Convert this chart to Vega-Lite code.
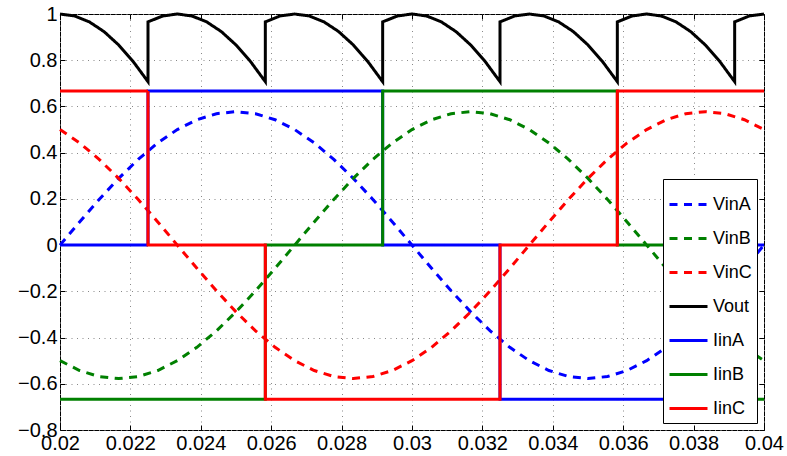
{
  "$schema": "https://vega.github.io/schema/vega-lite/v6.json",
  "width": 704,
  "height": 416,
  "autosize": {"type": "none"},
  "padding": {"left": 60, "top": 14, "right": 23, "bottom": 26},
  "background": "#ffffff",
  "datasets": {
    "vin": [
      {"t": 0.02, "VinA": 0, "VinB": -0.5, "VinC": 0.5},
      {"t": 0.020556, "VinA": 0.1003, "VinB": -0.5425, "VinC": 0.4423},
      {"t": 0.021111, "VinA": 0.1975, "VinB": -0.5686, "VinC": 0.3711},
      {"t": 0.021667, "VinA": 0.2887, "VinB": -0.5774, "VinC": 0.2887},
      {"t": 0.022222, "VinA": 0.3711, "VinB": -0.5686, "VinC": 0.1975},
      {"t": 0.022778, "VinA": 0.4423, "VinB": -0.5425, "VinC": 0.1003},
      {"t": 0.023333, "VinA": 0.5, "VinB": -0.5, "VinC": 0},
      {"t": 0.023889, "VinA": 0.5425, "VinB": -0.4423, "VinC": -0.1003},
      {"t": 0.024444, "VinA": 0.5686, "VinB": -0.3711, "VinC": -0.1975},
      {"t": 0.025, "VinA": 0.5774, "VinB": -0.2887, "VinC": -0.2887},
      {"t": 0.025556, "VinA": 0.5686, "VinB": -0.1975, "VinC": -0.3711},
      {"t": 0.026111, "VinA": 0.5425, "VinB": -0.1003, "VinC": -0.4423},
      {"t": 0.026667, "VinA": 0.5, "VinB": 0, "VinC": -0.5},
      {"t": 0.027222, "VinA": 0.4423, "VinB": 0.1003, "VinC": -0.5425},
      {"t": 0.027778, "VinA": 0.3711, "VinB": 0.1975, "VinC": -0.5686},
      {"t": 0.028333, "VinA": 0.2887, "VinB": 0.2887, "VinC": -0.5774},
      {"t": 0.028889, "VinA": 0.1975, "VinB": 0.3711, "VinC": -0.5686},
      {"t": 0.029444, "VinA": 0.1003, "VinB": 0.4423, "VinC": -0.5425},
      {"t": 0.03, "VinA": 0, "VinB": 0.5, "VinC": -0.5},
      {"t": 0.030556, "VinA": -0.1003, "VinB": 0.5425, "VinC": -0.4423},
      {"t": 0.031111, "VinA": -0.1975, "VinB": 0.5686, "VinC": -0.3711},
      {"t": 0.031667, "VinA": -0.2887, "VinB": 0.5774, "VinC": -0.2887},
      {"t": 0.032222, "VinA": -0.3711, "VinB": 0.5686, "VinC": -0.1975},
      {"t": 0.032778, "VinA": -0.4423, "VinB": 0.5425, "VinC": -0.1003},
      {"t": 0.033333, "VinA": -0.5, "VinB": 0.5, "VinC": 0},
      {"t": 0.033889, "VinA": -0.5425, "VinB": 0.4423, "VinC": 0.1003},
      {"t": 0.034444, "VinA": -0.5686, "VinB": 0.3711, "VinC": 0.1975},
      {"t": 0.035, "VinA": -0.5774, "VinB": 0.2887, "VinC": 0.2887},
      {"t": 0.035556, "VinA": -0.5686, "VinB": 0.1975, "VinC": 0.3711},
      {"t": 0.036111, "VinA": -0.5425, "VinB": 0.1003, "VinC": 0.4423},
      {"t": 0.036667, "VinA": -0.5, "VinB": 0, "VinC": 0.5},
      {"t": 0.037222, "VinA": -0.4423, "VinB": -0.1003, "VinC": 0.5425},
      {"t": 0.037778, "VinA": -0.3711, "VinB": -0.1975, "VinC": 0.5686},
      {"t": 0.038333, "VinA": -0.2887, "VinB": -0.2887, "VinC": 0.5774},
      {"t": 0.038889, "VinA": -0.1975, "VinB": -0.3711, "VinC": 0.5686},
      {"t": 0.039444, "VinA": -0.1003, "VinB": -0.4423, "VinC": 0.5425},
      {"t": 0.04, "VinA": 0, "VinB": -0.5, "VinC": 0.5}
    ],
    "vout": [
      {"series": "Vout", "i": 1, "t": 0.02, "value": 1},
      {"series": "Vout", "i": 2, "t": 0.0204167, "value": 0.9914},
      {"series": "Vout", "i": 3, "t": 0.0208333, "value": 0.9659},
      {"series": "Vout", "i": 4, "t": 0.02125, "value": 0.9239},
      {"series": "Vout", "i": 5, "t": 0.0216667, "value": 0.866},
      {"series": "Vout", "i": 6, "t": 0.0220833, "value": 0.7934},
      {"series": "Vout", "i": 7, "t": 0.0225, "value": 0.7071},
      {"series": "Vout", "i": 8, "t": 0.0225, "value": 0.9659},
      {"series": "Vout", "i": 9, "t": 0.0229167, "value": 0.9914},
      {"series": "Vout", "i": 10, "t": 0.0233333, "value": 1},
      {"series": "Vout", "i": 11, "t": 0.02375, "value": 0.9914},
      {"series": "Vout", "i": 12, "t": 0.0241667, "value": 0.9659},
      {"series": "Vout", "i": 13, "t": 0.0245833, "value": 0.9239},
      {"series": "Vout", "i": 14, "t": 0.025, "value": 0.866},
      {"series": "Vout", "i": 15, "t": 0.0254167, "value": 0.7934},
      {"series": "Vout", "i": 16, "t": 0.0258333, "value": 0.7071},
      {"series": "Vout", "i": 17, "t": 0.0258333, "value": 0.9659},
      {"series": "Vout", "i": 18, "t": 0.02625, "value": 0.9914},
      {"series": "Vout", "i": 19, "t": 0.0266667, "value": 1},
      {"series": "Vout", "i": 20, "t": 0.0270833, "value": 0.9914},
      {"series": "Vout", "i": 21, "t": 0.0275, "value": 0.9659},
      {"series": "Vout", "i": 22, "t": 0.0279167, "value": 0.9239},
      {"series": "Vout", "i": 23, "t": 0.0283333, "value": 0.866},
      {"series": "Vout", "i": 24, "t": 0.02875, "value": 0.7934},
      {"series": "Vout", "i": 25, "t": 0.0291667, "value": 0.7071},
      {"series": "Vout", "i": 26, "t": 0.0291667, "value": 0.9659},
      {"series": "Vout", "i": 27, "t": 0.0295833, "value": 0.9914},
      {"series": "Vout", "i": 28, "t": 0.03, "value": 1},
      {"series": "Vout", "i": 29, "t": 0.0304167, "value": 0.9914},
      {"series": "Vout", "i": 30, "t": 0.0308333, "value": 0.9659},
      {"series": "Vout", "i": 31, "t": 0.03125, "value": 0.9239},
      {"series": "Vout", "i": 32, "t": 0.0316667, "value": 0.866},
      {"series": "Vout", "i": 33, "t": 0.0320833, "value": 0.7934},
      {"series": "Vout", "i": 34, "t": 0.0325, "value": 0.7071},
      {"series": "Vout", "i": 35, "t": 0.0325, "value": 0.9659},
      {"series": "Vout", "i": 36, "t": 0.0329167, "value": 0.9914},
      {"series": "Vout", "i": 37, "t": 0.0333333, "value": 1},
      {"series": "Vout", "i": 38, "t": 0.03375, "value": 0.9914},
      {"series": "Vout", "i": 39, "t": 0.0341667, "value": 0.9659},
      {"series": "Vout", "i": 40, "t": 0.0345833, "value": 0.9239},
      {"series": "Vout", "i": 41, "t": 0.035, "value": 0.866},
      {"series": "Vout", "i": 42, "t": 0.0354167, "value": 0.7934},
      {"series": "Vout", "i": 43, "t": 0.0358333, "value": 0.7071},
      {"series": "Vout", "i": 44, "t": 0.0358333, "value": 0.9659},
      {"series": "Vout", "i": 45, "t": 0.03625, "value": 0.9914},
      {"series": "Vout", "i": 46, "t": 0.0366667, "value": 1},
      {"series": "Vout", "i": 47, "t": 0.0370833, "value": 0.9914},
      {"series": "Vout", "i": 48, "t": 0.0375, "value": 0.9659},
      {"series": "Vout", "i": 49, "t": 0.0379167, "value": 0.9239},
      {"series": "Vout", "i": 50, "t": 0.0383333, "value": 0.866},
      {"series": "Vout", "i": 51, "t": 0.03875, "value": 0.7934},
      {"series": "Vout", "i": 52, "t": 0.0391667, "value": 0.7071},
      {"series": "Vout", "i": 53, "t": 0.0391667, "value": 0.9659},
      {"series": "Vout", "i": 54, "t": 0.0395833, "value": 0.9914},
      {"series": "Vout", "i": 55, "t": 0.04, "value": 1}
    ],
    "iin": [
      {"series": "IinA", "t": 0.02, "value": 0},
      {"series": "IinA", "t": 0.0225, "value": 0.6667},
      {"series": "IinA", "t": 0.0291667, "value": 0},
      {"series": "IinA", "t": 0.0325, "value": -0.6667},
      {"series": "IinA", "t": 0.0391667, "value": 0},
      {"series": "IinA", "t": 0.04, "value": 0},
      {"series": "IinB", "t": 0.02, "value": -0.6667},
      {"series": "IinB", "t": 0.0258333, "value": 0},
      {"series": "IinB", "t": 0.0291667, "value": 0.6667},
      {"series": "IinB", "t": 0.0358333, "value": 0},
      {"series": "IinB", "t": 0.0391667, "value": -0.6667},
      {"series": "IinB", "t": 0.04, "value": -0.6667},
      {"series": "IinC", "t": 0.02, "value": 0.6667},
      {"series": "IinC", "t": 0.0225, "value": 0},
      {"series": "IinC", "t": 0.0258333, "value": -0.6667},
      {"series": "IinC", "t": 0.0325, "value": 0},
      {"series": "IinC", "t": 0.0358333, "value": 0.6667},
      {"series": "IinC", "t": 0.04, "value": 0.6667}
    ]
  },
  "layer": [
    {
      "data": {"name": "vin"},
      "transform": [{"fold": ["VinA", "VinB", "VinC"], "as": ["series", "value"]}],
      "mark": {"type": "line", "strokeWidth": 3, "clip": false},
      "encoding": {
        "x": {"field": "t", "type": "quantitative", "scale": {"domain": [0.02, 0.04], "nice": false, "zero": false},
              "axis": {"orient": "bottom", "title": null, "values": [0.02, 0.022, 0.024, 0.026, 0.028, 0.03, 0.032, 0.034, 0.036, 0.038, 0.04], "format": ".3~f", "grid": true, "labelFlush": false, "labelOverlap": false, "labelPadding": 8}},
        "y": {"field": "value", "type": "quantitative", "scale": {"domain": [-0.8, 1], "nice": false, "zero": false},
              "axis": {"orient": "left", "title": null, "values": [-0.8, -0.6, -0.4, -0.2, 0, 0.2, 0.4, 0.6, 0.8, 1], "format": ".1~f", "grid": true, "labelFlush": false, "labelOverlap": false, "labelPadding": 8}},
        "color": {"field": "series", "type": "nominal",
                  "scale": {"domain": ["VinA", "VinB", "VinC", "Vout", "IinA", "IinB", "IinC"], "range": ["#0000ff", "#008000", "#ff0000", "#000000", "#0000ff", "#008000", "#ff0000"]},
                  "legend": {"title": null}},
        "strokeDash": {"field": "series", "type": "nominal",
                  "scale": {"domain": ["VinA", "VinB", "VinC", "Vout", "IinA", "IinB", "IinC"], "range": [[8, 6.5], [8, 6.5], [8, 6.5], [1, 0], [1, 0], [1, 0], [1, 0]]},
                  "legend": {"title": null}}
      }
    },
    {
      "data": {"name": "vout"},
      "mark": {"type": "line", "strokeWidth": 3, "clip": false},
      "encoding": {
        "x": {"field": "t", "type": "quantitative",
              "axis": {"orient": "top", "title": null, "values": [0.02, 0.022, 0.024, 0.026, 0.028, 0.03, 0.032, 0.034, 0.036, 0.038, 0.04], "labels": false, "grid": false}},
        "y": {"field": "value", "type": "quantitative",
              "axis": {"orient": "right", "title": null, "values": [-0.8, -0.6, -0.4, -0.2, 0, 0.2, 0.4, 0.6, 0.8, 1], "labels": false, "grid": false}},
        "order": {"field": "i", "type": "quantitative"},
        "color": {"field": "series", "type": "nominal", "legend": {"title": null}},
        "strokeDash": {"field": "series", "type": "nominal", "legend": {"title": null}}
      }
    },
    {
      "data": {"name": "iin"},
      "mark": {"type": "line", "strokeWidth": 3, "interpolate": "step-after", "clip": false},
      "encoding": {
        "x": {"field": "t", "type": "quantitative", "axis": null},
        "y": {"field": "value", "type": "quantitative", "axis": null},
        "color": {"field": "series", "type": "nominal", "legend": {"title": null}},
        "strokeDash": {"field": "series", "type": "nominal", "legend": {"title": null}}
      }
    }
  ],
  "resolve": {"axis": {"x": "independent", "y": "independent"}},
  "config": {
    "font": "Liberation Sans",
    "view": {"stroke": "#000000", "strokeWidth": 1},
    "axis": {
      "domain": false,
      "labelFont": "Liberation Sans",
      "labelFontSize": 20,
      "labelColor": "#000000",
      "tickColor": "#000000",
      "tickSize": -5,
      "tickWidth": 1,
      "gridColor": "#888888",
      "gridDash": [1, 4.5],
      "gridWidth": 1,
      "gridOpacity": 1
    },
    "legend": {
      "orient": "bottom-right",
      "offset": 7,
      "fillColor": "#ffffff",
      "strokeColor": "#000000",
      "padding": 5,
      "symbolType": "stroke",
      "symbolSize": 1444,
      "symbolStrokeWidth": 3,
      "labelFont": "Liberation Sans",
      "labelFontSize": 18,
      "labelColor": "#000000",
      "labelOffset": 4,
      "rowPadding": 4
    }
  }
}
